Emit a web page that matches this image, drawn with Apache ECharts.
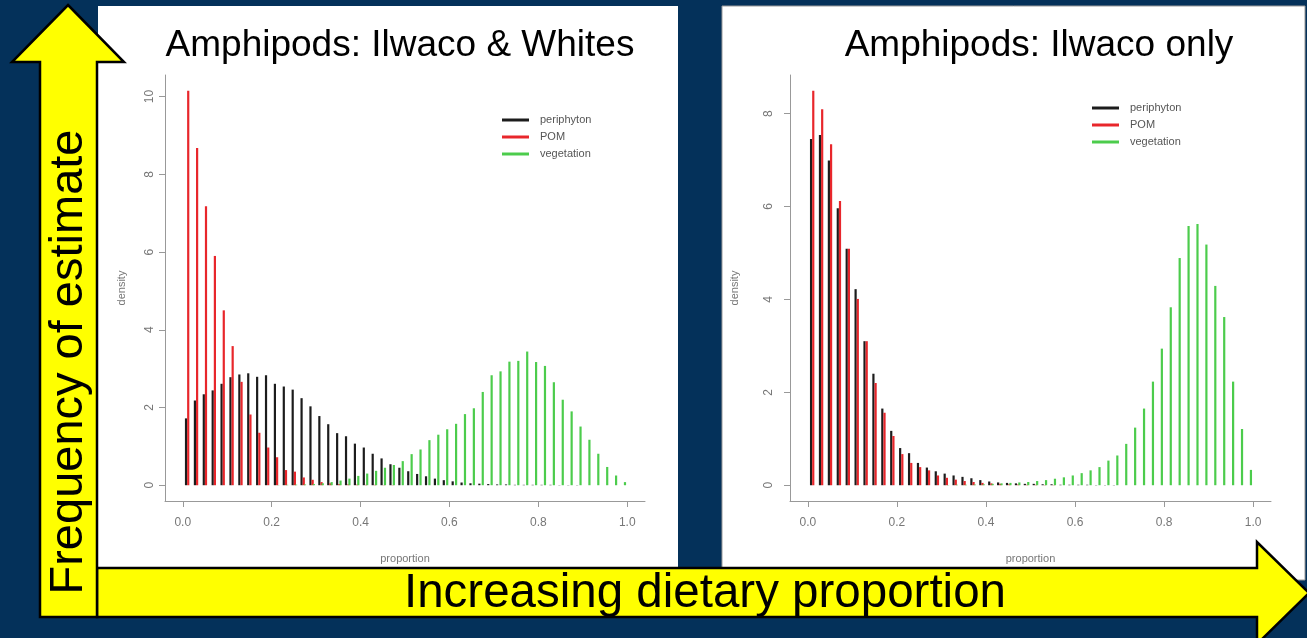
<!DOCTYPE html>
<html><head><meta charset="utf-8">
<script src="https://cdn.jsdelivr.net/npm/echarts@6/dist/echarts.min.js"></script>
<style>html,body{margin:0;padding:0;background:#04315a;} #c{width:1307px;height:638px;}</style>
</head><body><div id="c"></div>
<script>
// bin centres (proportion)
const proportion = [0.01,0.03,0.05,0.07,0.09,0.11,0.13,0.15,0.17,0.19,0.21,0.23,0.25,0.27,0.29,0.31,0.33,0.35,0.37,0.39,0.41,0.43,0.45,0.47,0.49,0.51,0.53,0.55,0.57,0.59,0.61,0.63,0.65,0.67,0.69,0.71,0.73,0.75,0.77,0.79,0.81,0.83,0.85,0.87,0.89,0.91,0.93,0.95,0.97,0.99];
const xTicks = [0, 0.2, 0.4, 0.6, 0.8, 1.0];
const yTicksLeft = [0, 2, 4, 6, 8, 10];
const yTicksRight = [0, 2, 4, 6, 8];
const seriesNames = ['periphyton', 'POM', 'vegetation'];
const titleLeft = 'Amphipods: Ilwaco & Whites';
const titleRight = 'Amphipods: Ilwaco only';

// Left panel: Ilwaco & Whites
const leftPeriphyton = [1.72,2.18,2.34,2.44,2.61,2.78,2.85,2.88,2.79,2.83,2.61,2.54,2.46,2.24,2.03,1.78,1.57,1.34,1.26,1.07,0.97,0.81,0.69,0.54,0.45,0.36,0.29,0.23,0.17,0.13,0.1,0.07,0.05,0.04,0.03,0.02,0.02,0.01,0.01,0.01,0.01,0.01,0.005,0.005,0.005,0,0,0,0,0];
const leftPOM = [10.15,8.68,7.18,5.9,4.5,3.58,2.66,1.82,1.35,0.97,0.72,0.39,0.35,0.2,0.14,0.08,0.05,0.03,0.02,0.015,0.01,0.01,0.005,0.005,0,0,0,0,0,0,0,0,0,0,0,0,0,0,0,0,0,0,0,0,0,0,0,0,0,0];
const leftVegetation = [0,0,0,0,0,0,0,0,0,0,0.005,0.01,0.015,0.02,0.03,0.05,0.08,0.12,0.17,0.24,0.3,0.37,0.45,0.52,0.62,0.8,0.92,1.16,1.3,1.44,1.58,1.83,1.98,2.4,2.83,2.93,3.18,3.2,3.44,3.17,3.07,2.65,2.2,1.9,1.51,1.17,0.81,0.47,0.25,0.08];

// Right panel: Ilwaco only
const rightPeriphyton = [7.45,7.54,6.99,5.96,5.09,4.22,3.1,2.4,1.65,1.17,0.8,0.69,0.48,0.38,0.3,0.25,0.21,0.18,0.15,0.11,0.08,0.06,0.05,0.04,0.03,0.03,0.02,0.02,0.01,0.01,0.01,0.01,0.005,0.005,0.005,0,0,0,0,0,0,0,0,0,0,0,0,0,0,0];
const rightPOM = [8.49,8.09,7.34,6.12,5.09,4.01,3.1,2.2,1.56,1.06,0.67,0.48,0.39,0.32,0.21,0.16,0.12,0.09,0.07,0.05,0.04,0.03,0.02,0.015,0.01,0.01,0.005,0.005,0,0,0,0,0,0,0,0,0,0,0,0,0,0,0,0,0,0,0,0,0,0];
const rightVegetation = [0,0,0,0,0,0,0,0,0,0,0,0,0,0,0,0.005,0.01,0.01,0.015,0.02,0.03,0.04,0.05,0.06,0.07,0.09,0.11,0.14,0.17,0.21,0.26,0.32,0.39,0.53,0.64,0.89,1.24,1.65,2.23,2.94,3.83,4.89,5.58,5.62,5.18,4.29,3.62,2.23,1.21,0.33];

const COLORS = { periphyton: '#1c1c1c', POM: '#e8262b', vegetation: '#4ccc4c' };
const OFFSETS = { periphyton: -1.2, POM: 1.0, vegetation: 2.2 };
const FONT = "'Liberation Sans', Arial, sans-serif";

function zip(vals) { return proportion.map((p, i) => [p, vals[i]]); }

function barSeries(name, vals, gi) {
  const off = OFFSETS[name], col = COLORS[name];
  return {
    type: 'custom', name: name, xAxisIndex: gi, yAxisIndex: gi,
    data: zip(vals), encode: { x: 0, y: 1 },
    itemStyle: { color: col },
    renderItem: function (params, api) {
      const x = api.value(0), y = api.value(1);
      const p0 = api.coord([x, 0]), p1 = api.coord([x, y]);
      return { type: 'line', shape: { x1: p0[0] + off, y1: p0[1], x2: p1[0] + off, y2: p1[1] },
        style: { stroke: col, lineWidth: 2.2 } };
    }
  };
}

function xAxisCfg(gi) {
  return {
    type: 'value', gridIndex: gi, min: -0.04, max: 1.04,
    name: 'proportion', nameLocation: 'middle', nameGap: 52,
    nameTextStyle: { color: '#777', fontSize: 11, fontFamily: FONT },
    splitLine: { show: false },
    axisLine: { show: true, onZero: false, lineStyle: { color: '#999', width: 1 } },
    axisTick: { show: true, customValues: xTicks, length: 6, lineStyle: { color: '#999' } },
    axisLabel: { customValues: xTicks, margin: 16, color: '#777', fontSize: 12, fontFamily: FONT,
      formatter: v => v.toFixed(1) }
  };
}
function yAxisCfg(gi, vals, ticks, gap, margin) {
  const ymax = Math.max.apply(null, vals);
  return {
    type: 'value', gridIndex: gi, min: -0.04 * ymax, max: 1.04 * ymax,
    name: 'density', nameLocation: 'middle', nameGap: gap, nameRotate: 90,
    nameTextStyle: { color: '#777', fontSize: 11, fontFamily: FONT },
    splitLine: { show: false },
    axisLine: { show: true, onZero: false, lineStyle: { color: '#999', width: 1 } },
    axisTick: { show: true, customValues: ticks, length: 6, lineStyle: { color: '#999' } },
    axisLabel: { customValues: ticks, rotate: 90, margin: margin, color: '#777', fontSize: 12, fontFamily: FONT,
      formatter: v => String(Math.round(v)) }
  };
}
function legendCfg(left, top) {
  return {
    data: seriesNames, orient: 'vertical', left: left, top: top,
    icon: 'rect', itemWidth: 27, itemHeight: 3, itemGap: 3,
    textStyle: { color: '#555', fontSize: 11, fontFamily: FONT, lineHeight: 14, padding: [0, 0, 0, 6] },
    selectedMode: false
  };
}

const chart = echarts.init(document.getElementById('c'), null, { renderer: 'canvas' });
const leftAll = leftPeriphyton.concat(leftPOM, leftVegetation);
const rightAll = rightPeriphyton.concat(rightPOM, rightVegetation);

chart.setOption({
  backgroundColor: '#04315a',
  animation: false,
  grid: [
    { left: 165, top: 75, width: 480, height: 426, show: true, borderColor: '#999', borderWidth: 1, backgroundColor: 'transparent' },
    { left: 790, top: 75, width: 481, height: 426, show: true, borderColor: '#999', borderWidth: 1, backgroundColor: 'transparent' }
  ],
  xAxis: [xAxisCfg(0), xAxisCfg(1)],
  yAxis: [yAxisCfg(0, leftAll, yTicksLeft, 38, 9), yAxisCfg(1, rightAll, yTicksRight, 50, 15)],
  legend: [legendCfg(497, 108), legendCfg(1087, 96)],
  series: [
    barSeries('periphyton', leftPeriphyton, 0),
    barSeries('POM', leftPOM, 0),
    barSeries('vegetation', leftVegetation, 0),
    barSeries('periphyton', rightPeriphyton, 1),
    barSeries('POM', rightPOM, 1),
    barSeries('vegetation', rightVegetation, 1)
  ],
  graphic: [
    { type: 'rect', z: 0, shape: { x: 98, y: 6, width: 580, height: 575 }, style: { fill: '#ffffff' } },
    { type: 'rect', z: 0, shape: { x: 722, y: 6, width: 583, height: 574 }, style: { fill: '#ffffff', stroke: '#9a9a9a', lineWidth: 1 } },
    { type: 'text', z: 1, style: { text: titleLeft, x: 400, y: 46, textAlign: 'center', textVerticalAlign: 'middle', font: '37px ' + FONT, fill: '#000' } },
    { type: 'text', z: 1, style: { text: titleRight, x: 1039, y: 46, textAlign: 'center', textVerticalAlign: 'middle', font: '37px ' + FONT, fill: '#000' } },
    { type: 'polygon', z: 10, shape: { points: [[97,568],[1257,568],[1257,542],[1309,593],[1257,644],[1257,617],[97,617]] },
      style: { fill: '#ffff00', stroke: '#000', lineWidth: 2.5 } },
    { type: 'polygon', z: 11, shape: { points: [[68,5],[124,62],[97,62],[97,617],[40,617],[40,62],[12,62]] },
      style: { fill: '#ffff00', stroke: '#000', lineWidth: 2.5 } },
    { type: 'text', z: 12, rotation: Math.PI / 2, x: 69, y: 362,
      style: { text: 'Frequency of estimate', x: 0, y: 0, textAlign: 'center', textVerticalAlign: 'middle', font: '47px ' + FONT, fill: '#000' } },
    { type: 'text', z: 12, style: { text: 'Increasing dietary proportion', x: 705, y: 594, textAlign: 'center', textVerticalAlign: 'middle', font: '47.5px ' + FONT, fill: '#000' } }
  ]
});
</script></body></html>
